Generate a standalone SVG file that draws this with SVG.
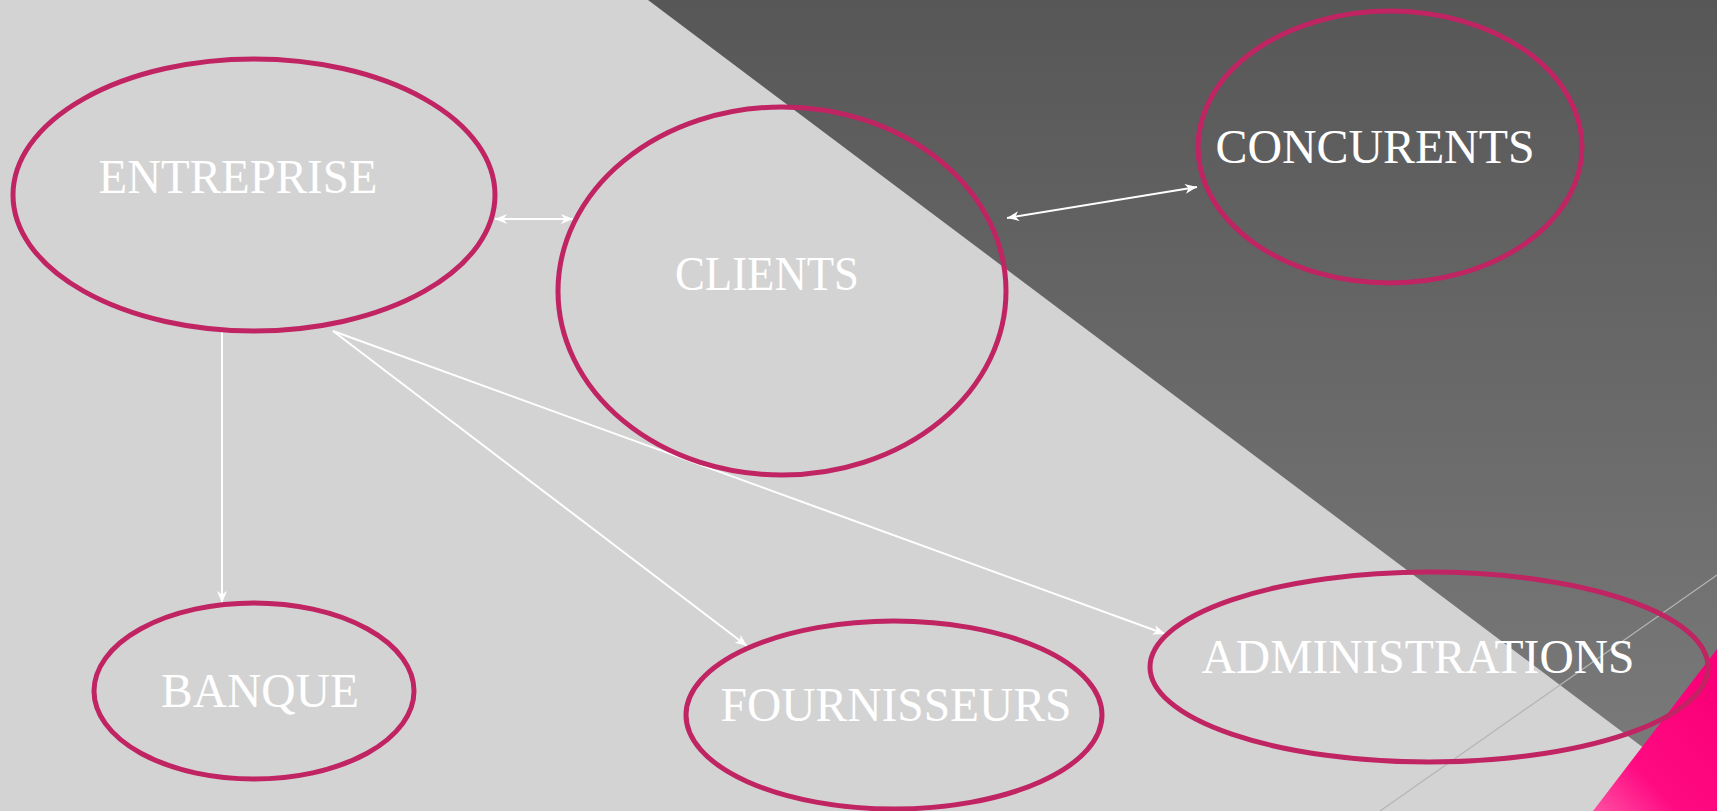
<svg xmlns="http://www.w3.org/2000/svg" width="1717" height="811" viewBox="0 0 1717 811">
  <style>
    .node ellipse { fill: none; stroke: #c02462; stroke-width: 5; }
    .node text { fill: #ffffff; font-family: "Liberation Serif", "Times New Roman", serif; font-size: 48px; text-anchor: middle; }
    .edge { stroke: #ffffff; stroke-width: 2; fill: none; }
  </style>
  <defs>
    <linearGradient id="darkShade" x1="0" y1="0" x2="0" y2="811" gradientUnits="userSpaceOnUse">
      <stop offset="0" stop-color="#575757"/>
      <stop offset="1" stop-color="#7c7c7c"/>
    </linearGradient>
    <linearGradient id="pinkCorner" x1="1600" y1="811" x2="1717" y2="700" gradientUnits="userSpaceOnUse">
      <stop offset="0" stop-color="#ff4aa0"/>
      <stop offset="0.35" stop-color="#ff0a82"/>
      <stop offset="1" stop-color="#fa0078"/>
    </linearGradient>
    <marker id="arrow" viewBox="0 0 12 10" refX="12" refY="5" markerWidth="12" markerHeight="10" markerUnits="userSpaceOnUse" orient="auto-start-reverse">
      <path d="M0,0 L12,5 L0,10 L3.5,5 Z" fill="#ffffff"/>
    </marker>
  </defs>

  <!-- background -->
  <rect x="0" y="0" width="1717" height="811" fill="#d3d3d3"/>
  <polygon points="648,0 1717,0 1717,803" fill="url(#darkShade)"/>
  <line x1="1717" y1="575" x2="1380" y2="811" stroke="#b4b4b4" stroke-width="1.2"/>
  <polygon points="1717,649 1717,811 1593,811" fill="url(#pinkCorner)"/>

  <!-- connectors -->
  <g id="connectors">
    <line class="edge" x1="495" y1="219" x2="573" y2="219" marker-start="url(#arrow)" marker-end="url(#arrow)"/>
    <line class="edge" x1="1007" y1="218" x2="1197" y2="187" marker-start="url(#arrow)" marker-end="url(#arrow)"/>
    <line class="edge" x1="222" y1="331" x2="222" y2="603" marker-end="url(#arrow)"/>
    <line class="edge" x1="333" y1="331" x2="747" y2="646" marker-end="url(#arrow)"/>
    <line class="edge" x1="333" y1="331" x2="1165" y2="634" marker-end="url(#arrow)"/>
  </g>

  <!-- nodes -->
  <g id="entreprise" class="node">
    <ellipse cx="254" cy="195" rx="241" ry="136"/>
    <text x="238" y="193" textLength="279" lengthAdjust="spacingAndGlyphs">ENTREPRISE</text>
  </g>
  <g id="clients" class="node">
    <ellipse cx="782" cy="291" rx="224" ry="184"/>
    <text x="767" y="290" textLength="184" lengthAdjust="spacingAndGlyphs">CLIENTS</text>
  </g>
  <g id="concurents" class="node">
    <ellipse cx="1390" cy="147" rx="192" ry="136"/>
    <text x="1375" y="163" textLength="319" lengthAdjust="spacingAndGlyphs">CONCURENTS</text>
  </g>
  <g id="banque" class="node">
    <ellipse cx="254" cy="691" rx="160" ry="88"/>
    <text x="260" y="707" textLength="198" lengthAdjust="spacingAndGlyphs">BANQUE</text>
  </g>
  <g id="fournisseurs" class="node">
    <ellipse cx="894" cy="715" rx="208" ry="94"/>
    <text x="896" y="721" textLength="351" lengthAdjust="spacingAndGlyphs">FOURNISSEURS</text>
  </g>
  <g id="administrations" class="node">
    <ellipse cx="1429" cy="667" rx="279" ry="95"/>
    <text x="1418" y="673" textLength="433" lengthAdjust="spacingAndGlyphs">ADMINISTRATIONS</text>
  </g>
</svg>
